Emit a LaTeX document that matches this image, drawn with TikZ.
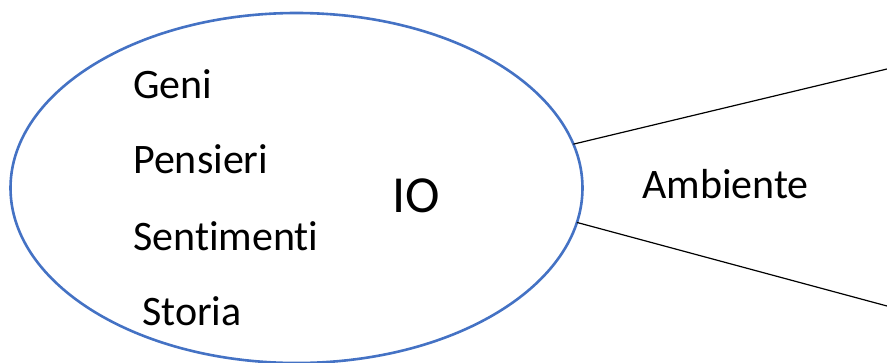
\documentclass[tikz,border=0pt]{standalone}
\usepackage{fontspec}
\setmainfont[Ligatures={NoCommon}]{Carlito}
\usetikzlibrary{shapes.geometric}
\definecolor{ellblue}{RGB}{68,114,196}
\begin{document}
\begin{tikzpicture}[x=1pt,y=-1pt,
  lbl/.style={anchor=base west,inner sep=0pt,font=\fontsize{42}{42}\selectfont},
  conn/.style={draw=black,line width=1.2pt}]
\useasboundingbox (0,0) rectangle (887,362);
\node[draw=ellblue,line width=2.6pt,ellipse,minimum width=572pt,minimum height=350pt,inner sep=0pt,outer sep=0pt] (ell) at (296.5,188) {};
\node[lbl] (geni) at (133,98) {Geni};
\node[lbl] (pens) at (133,173) {Pensieri};
\node[lbl] (sent) at (133,250) {Sentimenti};
\node[lbl] (stor) at (142,325) {Storia};
\node[lbl,font=\fontsize{52}{52}\selectfont] (io) at (392,212) {IO};
\node[lbl] (amb) at (642,198) {Ambiente};
\coordinate (e1) at (887,69);
\coordinate (e2) at (887,306);
\draw[conn] (ell.9.4) -- (e1);
\draw[conn] (ell.-7.9) -- (e2);
\end{tikzpicture}
\end{document}
